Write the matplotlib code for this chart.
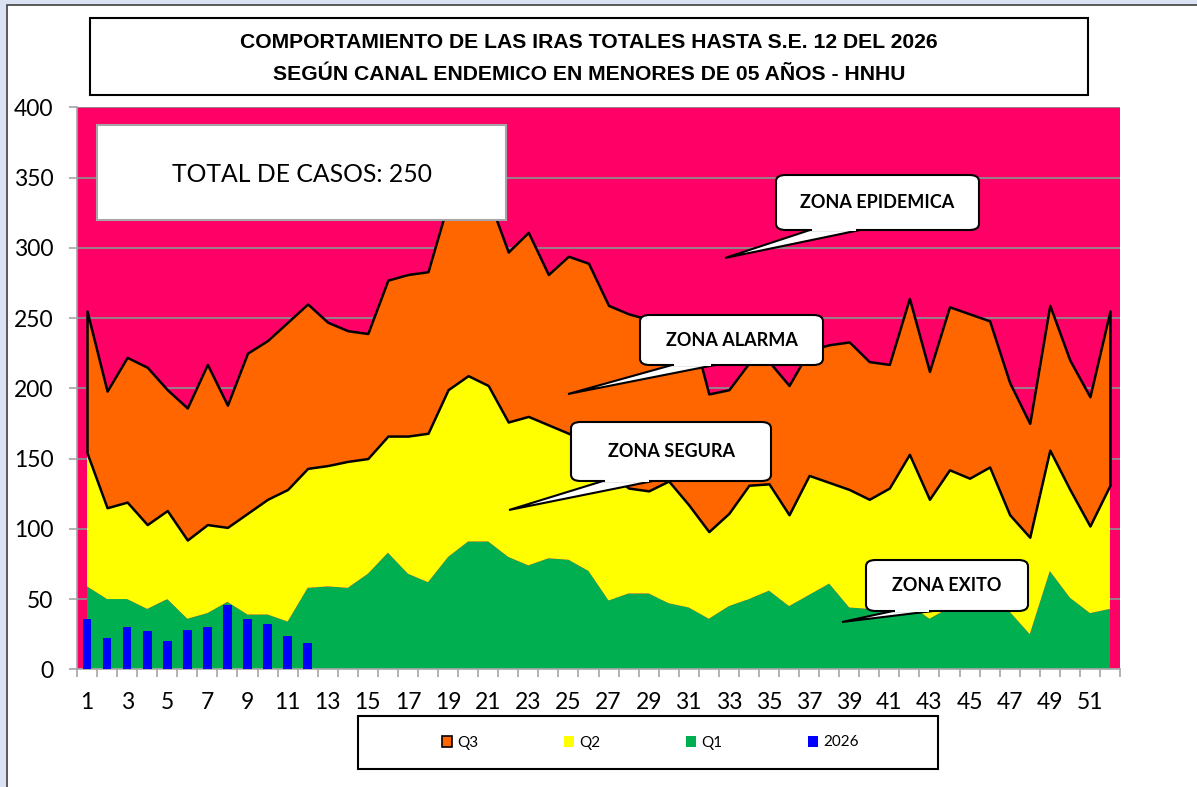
import numpy as np
import matplotlib.pyplot as plt
from matplotlib.patches import Rectangle, FancyBboxPatch, Polygon, Patch

# ==========================================================
# Data
# ==========================================================

weeks = list(range(1, 53))

q3 = [255, 198, 222, 215, 199, 186, 217, 188, 225, 234, 247, 260, 247,
      241, 239, 277, 281, 283, 332, 342, 336, 297, 311, 281, 294, 289,
      259, 253, 249, 250, 250, 196, 199, 218, 219, 202, 227, 231, 233,
      219, 217, 264, 212, 258, 253, 248, 204, 175, 259, 220, 194, 255]

q2 = [154, 115, 119, 103, 113, 92, 103, 101, 111, 121, 128, 143, 145,
      148, 150, 166, 166, 168, 199, 209, 202, 176, 180, 174, 168, 162,
      140, 129, 127, 134, 117, 98, 111, 131, 132, 110, 138, 133, 128,
      121, 129, 153, 121, 142, 136, 144, 110, 94, 156, 128, 102, 131]

q1 = [59, 50, 50, 43, 50, 36, 40, 48, 39, 39, 34, 58, 59,
      58, 68, 83, 68, 62, 80, 91, 91, 80, 74, 79, 78, 70,
      49, 54, 54, 47, 44, 36, 45, 50, 56, 45, 53, 61, 44,
      43, 43, 46, 36, 44, 46, 47, 41, 25, 70, 51, 40, 43]

weeks_2026 = list(range(1, 13))
cases_2026 = [36, 22, 30, 27, 20, 28, 30, 46, 36, 32, 24, 19]

title_lines = ["COMPORTAMIENTO DE LAS IRAS TOTALES HASTA S.E. 12 DEL 2026",
               "SEGÚN CANAL ENDEMICO EN MENORES DE 05 AÑOS - HNHU"]
total_text = "TOTAL DE CASOS: 250"

# colours
PINK = "#FF0066"
ORANGE = "#FF6600"
YELLOW = "#FFFF00"
GREEN = "#00B050"
BLUE = "#0000FF"
GRID = "#8C8C8C"

W, H = 1197, 787


def fx(x):
    return x / W


def fy(y):
    return 1 - y / H


# ==========================================================
# Figure
# ==========================================================

fig = plt.figure(figsize=(W / 100, H / 100), dpi=100, facecolor="#DAE3F3")
fig.patches.append(Rectangle((fx(7), fy(H + 20)), 1.2, fy(5) - fy(H + 20),
                             transform=fig.transFigure, facecolor="white",
                             edgecolor="#404040", lw=1.2, zorder=-10))

ax = fig.add_axes([fx(77), fy(669.3), fx(1120) - fx(77), fy(107.3) - fy(669.3)])
ax.set_facecolor(PINK)

x = np.array(weeks)
ax.fill_between(x, 0, q1, facecolor=GREEN, edgecolor="none", zorder=2)
ax.fill_between(x, q1, q2, facecolor=YELLOW, edgecolor="none", zorder=2)
ax.fill_between(x, q2, q3, facecolor=ORANGE, edgecolor="black", lw=1.8, zorder=3)
ax.bar(weeks_2026, cases_2026, width=0.43, color=BLUE, zorder=4)

ax.set_xlim(0.5, 52.5)
ax.set_ylim(0, 400)
ax.set_yticks(np.arange(0, 401, 50))
ax.yaxis.grid(True, color=GRID, lw=1.3)
ax.set_axisbelow(True)

ax.set_xticks(np.arange(0.5, 53, 1))
ax.set_xticklabels([])
ax.set_xticks(weeks[::2], minor=True)
ax.set_xticklabels([str(w) for w in weeks[::2]], minor=True)

ax.tick_params(axis="x", which="major", length=6, width=1.2, color="#A6A6A6")
ax.tick_params(axis="x", which="minor", length=0, pad=16)
ax.tick_params(axis="y", length=6, width=1.2, color="#A6A6A6", pad=11)
for lab in ax.get_xticklabels(minor=True) + ax.get_yticklabels():
    lab.set_fontfamily("Lato")
    lab.set_fontsize(16.5)

for s in ["top", "right"]:
    ax.spines[s].set_visible(False)
for s in ["left", "bottom"]:
    ax.spines[s].set_color("#A6A6A6")
    ax.spines[s].set_linewidth(1.2)

# ==========================================================
# Title box
# ==========================================================

fig.patches.append(Rectangle((fx(90), fy(95)), fx(1088) - fx(90), fy(18) - fy(95),
                             transform=fig.transFigure, facecolor="white",
                             edgecolor="black", lw=1.5))
fig.text(fx(589), fy(42), title_lines[0], ha="center", va="center",
         fontfamily="Liberation Sans", fontweight="bold", fontsize=15.2)
fig.text(fx(589), fy(75), title_lines[1], ha="center", va="center",
         fontfamily="Liberation Sans", fontweight="bold", fontsize=15.2)

# ==========================================================
# Total box
# ==========================================================

fig.patches.append(Rectangle((fx(97), fy(220)), fx(506) - fx(97), fy(125) - fy(220),
                             transform=fig.transFigure, facecolor="white",
                             edgecolor="#A6A6A6", lw=1.5, zorder=5))
fig.text(fx(302), fy(174), total_text, ha="center", va="center",
         fontfamily="Lato", fontsize=17.8, zorder=6)

# ==========================================================
# Callouts
# ==========================================================

callouts = [
    ("ZONA EPIDEMICA", (776, 175, 979, 230), (810, 860), (725, 258)),
    ("ZONA ALARMA", (640, 315, 823, 365), (672, 715), (568, 394)),
    ("ZONA SEGURA", (571, 422, 771, 481), (603, 653), (509, 510)),
    ("ZONA EXITO", (866, 560, 1028, 611), (893, 933), (842, 622)),
]

for label, (x0, y0, x1, y1), (b0, b1), tip in callouts:
    tail = Polygon([(fx(b0), fy(y1)), (fx(tip[0]), fy(tip[1])), (fx(b1), fy(y1))],
                   closed=True, transform=fig.transFigure, facecolor="white",
                   edgecolor="black", lw=1.5, zorder=7)
    box = FancyBboxPatch((fx(x0), fy(y1)), fx(x1) - fx(x0), fy(y0) - fy(y1),
                         boxstyle="round,pad=0,rounding_size=0.008",
                         transform=fig.transFigure, facecolor="white",
                         edgecolor="black", lw=1.5, zorder=8)
    cover = Polygon([(fx(b0 + 2), fy(y1 - 2)), (fx(b0 + 2), fy(y1 + 1)),
                     (fx(b1 - 4), fy(y1 + 1)), (fx(b1 - 4), fy(y1 - 2))],
                    closed=True, transform=fig.transFigure, facecolor="white",
                    edgecolor="none", zorder=9)
    fig.patches.extend([tail, box, cover])
    fig.text(fx((x0 + x1) / 2), fy((y0 + y1) / 2), label, ha="center", va="center",
             fontfamily="Lato", fontweight="bold", fontsize=13, zorder=10)

# ==========================================================
# Legend
# ==========================================================

fig.patches.append(Rectangle((fx(358), fy(769)), fx(938) - fx(358), fy(716) - fy(769),
                             transform=fig.transFigure, facecolor="white",
                             edgecolor="black", lw=1.5))
handles = [Patch(facecolor=ORANGE, edgecolor="black", lw=1.2),
           Patch(facecolor=YELLOW, edgecolor="none"),
           Patch(facecolor=GREEN, edgecolor="none"),
           Patch(facecolor=BLUE, edgecolor="none")]
fig.legend(handles, ["Q3", "Q2", "Q1", "2026"], loc="center",
           bbox_to_anchor=(fx(650), fy(742.5)), ncol=4, frameon=False,
           prop={"family": "Lato", "size": 11}, handlelength=0.7,
           handleheight=0.7, handletextpad=0.3, columnspacing=5.6)

fig.savefig("out.png", dpi=100, facecolor=fig.get_facecolor())
